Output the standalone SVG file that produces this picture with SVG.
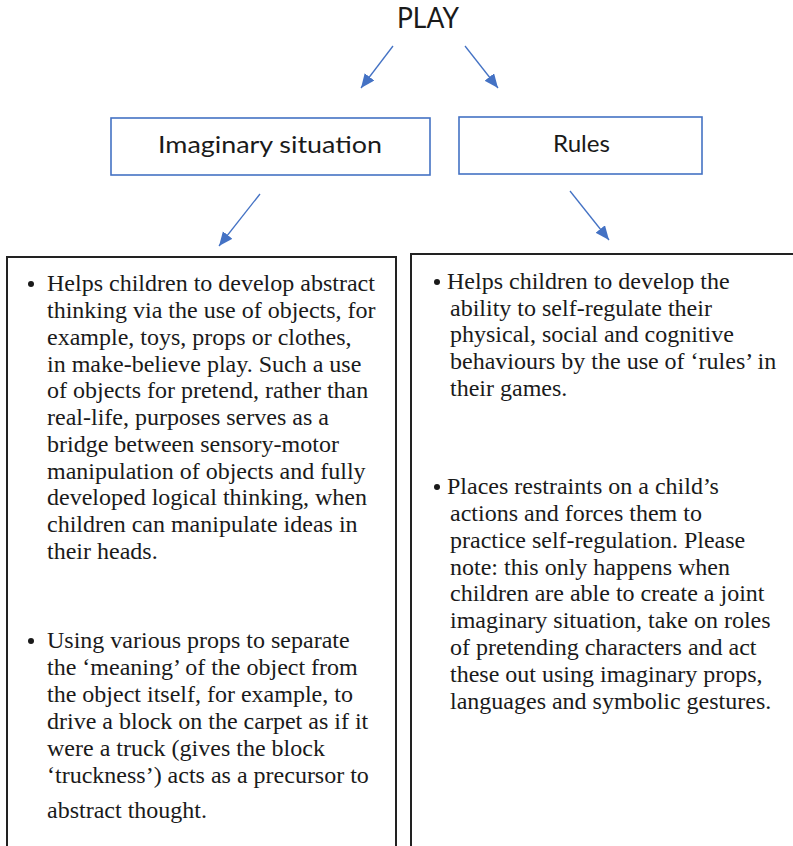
<svg xmlns="http://www.w3.org/2000/svg" width="793" height="846" viewBox="0 0 793 846">
  <style>
    .head { font-family: Lato, "Open Sans", sans-serif; fill: #1a1a1a; }
    .cat { fill: #ffffff; stroke: #4472C4; stroke-width: 1.6; }
    .panel { fill: #ffffff; stroke: #222222; stroke-width: 2; }
    .body { font-family: "Liberation Serif", "Times New Roman", serif; font-size: 24px; fill: #1a1a1a; }
    .dot { fill: #1a1a1a; }
    .conn { stroke: #4472C4; stroke-width: 1.3; fill: none; marker-end: url(#arrow); }
  </style>
  <defs>
    <marker id="arrow" markerUnits="userSpaceOnUse" markerWidth="16" markerHeight="14" refX="14" refY="6" orient="auto">
      <path d="M0,0 L14,6 L0,12 Z" fill="#4472C4"/>
    </marker>
  </defs>
  <rect width="793" height="846" fill="#ffffff"/>

  <g id="play">
    <text class="head" x="428" y="28" font-size="28" text-anchor="middle" textLength="62" lengthAdjust="spacingAndGlyphs">PLAY</text>
  </g>

  <g id="imaginary-situation">
    <rect class="cat" x="111" y="118" width="319" height="57"/>
    <text class="head" x="270" y="153" font-size="24" text-anchor="middle" textLength="224" lengthAdjust="spacingAndGlyphs">Imaginary situation</text>
  </g>

  <g id="rules">
    <rect class="cat" x="459" y="117" width="243" height="57"/>
    <text class="head" x="581.5" y="152" font-size="24" text-anchor="middle" textLength="57" lengthAdjust="spacingAndGlyphs">Rules</text>
  </g>

  <g id="connectors">
    <line class="conn" x1="393" y1="46" x2="361" y2="88"/>
    <line class="conn" x1="465" y1="46" x2="498" y2="88"/>
    <line class="conn" x1="260" y1="194" x2="219" y2="246"/>
    <line class="conn" x1="570" y1="191" x2="609" y2="240"/>
  </g>

  <g id="imaginary-notes">
    <rect class="panel" x="7" y="257" width="389" height="600"/>
    <circle class="dot" cx="31" cy="284" r="3"/>
    <circle class="dot" cx="31" cy="641" r="3"/>
    <text class="body">
      <tspan x="47" y="291">Helps children to develop abstract</tspan>
      <tspan x="47" y="318">thinking via the use of objects, for</tspan>
      <tspan x="47" y="345">example, toys, props or clothes,</tspan>
      <tspan x="47" y="372">in make-believe play. Such a use</tspan>
      <tspan x="47" y="398">of objects for pretend, rather than</tspan>
      <tspan x="47" y="425">real-life, purposes serves as a</tspan>
      <tspan x="47" y="452">bridge between sensory-motor</tspan>
      <tspan x="47" y="479">manipulation of objects and fully</tspan>
      <tspan x="47" y="505">developed logical thinking, when</tspan>
      <tspan x="47" y="532">children can manipulate ideas in</tspan>
      <tspan x="47" y="559">their heads.</tspan>
    </text>
    <text class="body">
      <tspan x="47" y="648">Using various props to separate</tspan>
      <tspan x="47" y="675">the ‘meaning’ of the object from</tspan>
      <tspan x="47" y="702">the object itself, for example, to</tspan>
      <tspan x="47" y="729">drive a block on the carpet as if it</tspan>
      <tspan x="47" y="756">were a truck (gives the block</tspan>
      <tspan x="47" y="783">‘truckness’) acts as a precursor to</tspan>
      <tspan x="47" y="818">abstract thought.</tspan>
    </text>
  </g>

  <g id="rules-notes">
    <rect class="panel" x="411" y="254" width="400" height="600"/>
    <circle class="dot" cx="437" cy="282" r="3"/>
    <circle class="dot" cx="437" cy="487" r="3"/>
    <text class="body">
      <tspan x="447" y="289">Helps children to develop the</tspan>
      <tspan x="450" y="316">ability to self-regulate their</tspan>
      <tspan x="450" y="342">physical, social and cognitive</tspan>
      <tspan x="450" y="369">behaviours by the use of ‘rules’ in</tspan>
      <tspan x="450" y="396">their games.</tspan>
    </text>
    <text class="body">
      <tspan x="447" y="494">Places restraints on a child’s</tspan>
      <tspan x="450" y="521">actions and forces them to</tspan>
      <tspan x="450" y="548">practice self-regulation. Please</tspan>
      <tspan x="450" y="575">note: this only happens when</tspan>
      <tspan x="450" y="601">children are able to create a joint</tspan>
      <tspan x="450" y="628">imaginary situation, take on roles</tspan>
      <tspan x="450" y="655">of pretending characters and act</tspan>
      <tspan x="450" y="682">these out using imaginary props,</tspan>
      <tspan x="450" y="709">languages and symbolic gestures.</tspan>
    </text>
  </g>
</svg>
